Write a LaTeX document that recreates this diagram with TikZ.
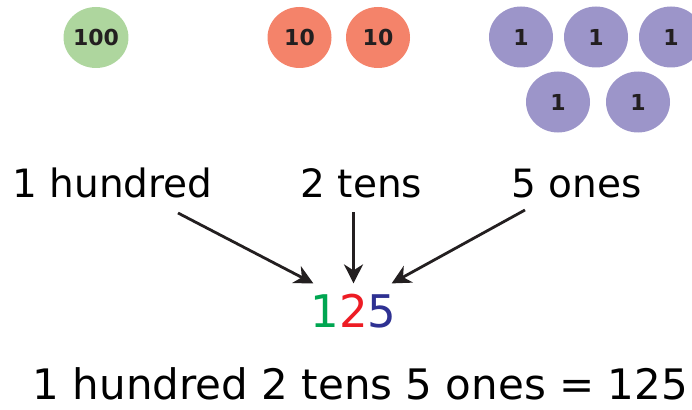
\documentclass[tikz,border=0pt]{standalone}
\usepackage{fontspec}
\setmainfont{DejaVu Sans}
\usetikzlibrary{arrows.meta, shapes.geometric}
\definecolor{chip-green}{HTML}{AED69E}
\definecolor{chip-orange}{HTML}{F4836A}
\definecolor{chip-purple}{HTML}{9C95C9}
\definecolor{digit-green}{HTML}{00A651}
\definecolor{digit-red}{HTML}{ED1C24}
\definecolor{digit-blue}{HTML}{2E3192}
\definecolor{ink}{HTML}{231F20}
\tikzset{
  chip/.style={
    ellipse, inner sep=0pt, minimum width=64pt, minimum height=61pt,
    text=ink, font=\bfseries\fontsize{22}{22}\selectfont
  },
  hundredchip/.style={chip, fill=chip-green},
  tenchip/.style={chip, fill=chip-orange},
  onechip/.style={chip, fill=chip-purple},
  label/.style={
    anchor=base, inner sep=0pt, text=black,
    font=\fontsize{39}{39}\selectfont
  },
  pointer/.style={
    draw, -{Stealth[length=19pt, width=19pt, inset=6pt]},
    color=ink, line width=2.8pt
  }
}

\begin{document}
\begin{tikzpicture}[x=1pt, y=-1pt]
        \useasboundingbox (0,0) rectangle (692,409);

        \node[hundredchip] (h1) at (96,37.5) {100};
        \node[tenchip] (t1) at (299.5,37.5) {10};
        \node[tenchip] (t2) at (378,37.5) {10};
        \node[onechip] (o1) at (521,37) {1};
        \node[onechip] (o2) at (596,37) {1};
        \node[onechip] (o3) at (671,37) {1};
        \node[onechip] (o4) at (558,102) {1};
        \node[onechip] (o5) at (638,102) {1};

        \node[label] (hundreds) at (112.5,197) {1 hundred};
        \node[label] (tens) at (361.5,197) {2 tens};
        \node[label] (ones) at (576.5,197) {5 ones};

        \node[anchor=base, inner xsep=3pt, inner ysep=10pt,
              font=\fontsize{45}{45}\selectfont] (number) at (353.5,327)
              {\textcolor{digit-green}{1}\textcolor{digit-red}{2}\textcolor{digit-blue}{5}};

        \coordinate (hs) at (178,213);
        \coordinate (ts) at (number.north |- 0,212);
        \coordinate (os) at (525,210);

        \draw[pointer] (hs) -- ([xshift=6pt]number.north west);
        \draw[pointer] (ts) -- (number.north);
        \draw[pointer] (os) -- ([xshift=-8pt]number.north east);

        \node[label, font=\fontsize{42}{42}\selectfont] (sum) at (360.5,399)
              {1 hundred 2 tens 5 ones = 125};
      \end{tikzpicture}
\end{document}
